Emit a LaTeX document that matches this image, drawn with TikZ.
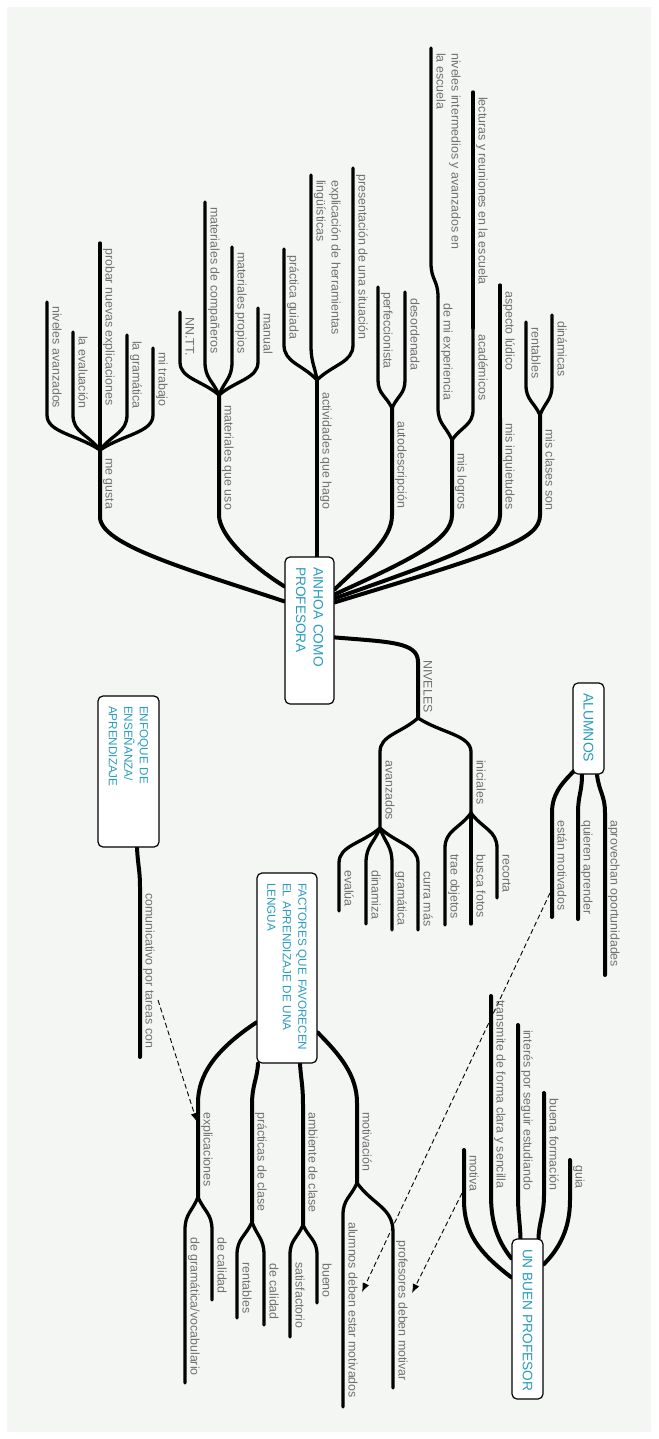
\documentclass[tikz,border=0pt]{standalone}
\usepackage{fontspec}
\setmainfont{Liberation Sans}
\usetikzlibrary{calc,backgrounds,arrows.meta}
\definecolor{bgc}{HTML}{F4F6F4}
\definecolor{lblc}{HTML}{707070}
\definecolor{boxc}{HTML}{2A9BBF}
\newcommand{\brleaf}[5]{%
  \coordinate (#2b) at (#3,-#4);
  \coordinate (#2t) at (#3,-#5);
  \draw[leaf] (#1) .. controls ($(#1)!0.45!(#2b)$) and ($(#2b)!0.5!(#2b|-#1)$) .. (#2b) -- (#2t);}
\newcommand{\lab}[4]{\node[lbl] (#1) at (#2+1,-#3+1.5) {#4};}
\begin{document}
\begin{tikzpicture}[x=1pt,y=1pt,
  leaf/.style={line width=3.3pt, line cap=round},
  trunk/.style={line width=4pt, line cap=round},
  lbl/.style={rotate=-90, anchor=south west, inner sep=1.5pt, text depth=3pt, text=lblc, font=\fontsize{12.4}{15}\selectfont, align=left},
  box/.style={rotate=-90, draw=black, line width=1.2pt, fill=white, rounded corners=5pt, text=boxc, align=left, inner xsep=10pt, inner ysep=0pt},
  link/.style={line width=0.9pt, dash pattern=on 5pt off 3pt, -{Latex[length=9pt,width=7pt]}}
]
\useasboundingbox (0,0) rectangle (658,-1439);
% ---------- boxes ----------
\node[box, font=\fontsize{13.7}{17.5}\selectfont, text width=127pt, minimum height=49pt] (ainhoa) at (309.5,-630.5) {AINHOA COMO\\PROFESORA};
\node[box, font=\fontsize{11.7}{15.5}\selectfont, text width=131pt, minimum height=61pt] (enfoque) at (128.5,-771.5) {ENFOQUE DE\\ENSEÑANZA/\\APRENDIZAJE};
\node[box, font=\fontsize{11.7}{15.5}\selectfont, text width=170pt, minimum height=60pt] (factores) at (287,-968) {FACTORES QUE FAVORECEN\\EL APRENDIZAJE DE UNA\\LENGUA};
\node[box, font=\fontsize{14}{16}\selectfont, minimum height=31pt] (alumnos) at (588.5,-728.5) {\makebox[71pt][l]{ALUMNOS}};
\node[box, font=\fontsize{13.7}{16}\selectfont, minimum height=31pt] (buen) at (527.5,-1319) {\makebox[140pt][l]{UN BUEN PROFESOR}};
% ---------- fork coordinates ----------
\coordinate (F1) at (100,-450);  \coordinate (F1s) at (100,-517);
\coordinate (F2) at (219,-395);  \coordinate (F2s) at (219,-515);
\coordinate (F3) at (317,-380);
\coordinate (F4) at (392,-408);  \coordinate (F4s) at (392,-515);
\coordinate (F5) at (452,-440);  \coordinate (F5s) at (452,-515);
\coordinate (I6) at (500,-418);  \coordinate (I6s) at (500,-515); \coordinate (I6t) at (500,-285);
\coordinate (F7) at (540,-415);  \coordinate (F7s) at (540,-515);
\coordinate (N0) at (418,-662);  \coordinate (F8) at (418,-718);
\coordinate (nivb) at (431,-263); \coordinate (nivt) at (431,-48);
\coordinate (lect) at (473,-92);
\coordinate (emb) at (552,-813); \coordinate (emt) at (552,-917);
\coordinate (qab) at (578,-813); \coordinate (qat) at (578,-919);
\coordinate (aob) at (605,-813); \coordinate (aot) at (605,-975);
\coordinate (ctb) at (140,-887); \coordinate (ctt) at (140,-1057);
\coordinate (F9a) at (198,-1197); \coordinate (F9as) at (198,-1103);
\coordinate (F9b) at (252,-1222); \coordinate (F9bs) at (252,-1105);
\coordinate (F9c) at (303,-1225); \coordinate (F9cs) at (303,-1105);
\coordinate (F9d) at (357,-1183); \coordinate (F9ds) at (357,-1103);
\coordinate (mvb) at (464,-1200); \coordinate (mvt) at (464,-1150);
\coordinate (tcb) at (491,-1195); \coordinate (tct) at (491,-996);
\coordinate (ieb) at (518,-1195); \coordinate (iet) at (518,-1025);
\coordinate (bfb) at (544,-1195); \coordinate (bft) at (544,-1093);
\coordinate (gub) at (570,-1200); \coordinate (gut) at (570,-1160);
% ---------- connectors ----------
\begin{scope}[on background layer]
\fill[bgc] (7,-7) rectangle (651,-1432);
% me gusta
\draw[trunk] ([yshift=-45pt]ainhoa.south west) .. controls (190,-570) and (100,-545) .. (F1s) -- (F1);
\brleaf{F1}{nav}{47}{415}{302}
\brleaf{F1}{eva}{73}{415}{332}
\brleaf{F1}{pro}{100}{415}{243}
\brleaf{F1}{gra}{127}{415}{335}
\brleaf{F1}{tra}{153}{415}{348}
% materiales que uso
\draw[trunk] ([yshift=-30pt]ainhoa.south west) .. controls (250,-565) and (219,-535) .. (F2s) -- (F2);
\brleaf{F2}{nnt}{180}{362}{312}
\brleaf{F2}{mco}{205}{362}{202}
\brleaf{F2}{mpr}{232}{362}{247}
\brleaf{F2}{man}{258}{362}{308}
% actividades que hago
\draw[trunk] ([xshift=7.5pt]ainhoa.west) -- (F3);
\brleaf{F3}{pgu}{284}{345}{249}
\brleaf{F3}{exh}{311}{345}{175}
\brleaf{F3}{pre}{353}{345}{168}
% autodescripcion
\draw[trunk] ([yshift=-33pt]ainhoa.north west) .. controls (365,-560) and (392,-540) .. (F4s) -- (F4);
\brleaf{F4}{per}{378}{380}{287}
\brleaf{F4}{des}{405}{380}{292}
% mis logros
\draw[trunk] ([yshift=-38pt]ainhoa.north west) .. controls (410,-560) and (452,-540) .. (F5s) -- (F5);
\brleaf{F5}{dme}{438}{408}{297}
\draw[leaf] (dmet) .. controls (438,-280) and (431,-280) .. (nivb) -- (nivt);
\brleaf{F5}{aca}{473}{410}{328}
\draw[leaf] (acat) -- (lect);
% mis inquietudes
\draw[trunk] ([yshift=-42pt]ainhoa.north west) .. controls (455,-556) and (500,-540) .. (I6s) -- (I6);
\draw[leaf] (I6) -- (I6t);
% mis clases son
\draw[trunk] ([yshift=-46pt]ainhoa.north west) .. controls (500,-552) and (540,-540) .. (F7s) -- (F7);
\brleaf{F7}{ren}{526}{385}{322}
\brleaf{F7}{din}{552}{385}{315}
% NIVELES
\draw[trunk] ([yshift=-81pt]ainhoa.north west) .. controls (390,-642) and (418,-642) .. (N0) -- (F8);
\brleaf{F8}{ava}{380}{752}{828}
\brleaf{F8}{ini}{471}{752}{813}
\brleaf{avat}{evl}{339}{863}{911}
\brleaf{avat}{dnz}{366}{863}{924}
\brleaf{avat}{gmt}{392}{863}{930}
\brleaf{avat}{cmr}{418}{863}{930}
\brleaf{init}{tro}{445}{848}{925}
\brleaf{init}{bfo}{471}{848}{924}
\brleaf{init}{rec}{497}{848}{898}
% ALUMNOS
\draw[trunk] ([xshift=2pt,yshift=4pt]alumnos.south east) .. controls (560,-785) and (552,-795) .. (emb) -- (emt);
\draw[trunk] ([xshift=-6.5pt]alumnos.east) .. controls (582,-792) and (578,-795) .. (qab) -- (qat);
\draw[trunk] ([xshift=8.5pt]alumnos.east) .. controls (599,-792) and (605,-795) .. (aob) -- (aot);
% ENFOQUE
\draw[trunk] ([xshift=8.5pt]enfoque.east) .. controls (138,-867) and (140,-870) .. (ctb) -- (ctt);
% FACTORES
\draw[trunk] ([yshift=-150pt]factores.south west) .. controls (215,-1050) and (198,-1075) .. (F9as) -- (F9a);
\brleaf{F9a}{dgv}{185}{1230}{1383}
\brleaf{F9a}{dca}{212}{1230}{1300}
\draw[trunk] ([xshift=-29pt]factores.east) .. controls (257,-1080) and (252,-1085) .. (F9bs) -- (F9b);
\brleaf{F9b}{rnt}{237}{1255}{1318}
\brleaf{F9b}{dcb}{264}{1255}{1325}
\draw[trunk] ([xshift=13pt]factores.east) .. controls (301,-1080) and (303,-1085) .. (F9cs) -- (F9c);
\brleaf{F9c}{sat}{290}{1255}{1337}
\brleaf{F9c}{bue}{317}{1255}{1303}
\draw[trunk] ([yshift=-160pt]factores.north west) .. controls (340,-1055) and (357,-1075) .. (F9ds) -- (F9d);
\brleaf{F9d}{adm}{343}{1215}{1407}
\brleaf{F9d}{pdm}{393}{1232}{1388}
% UN BUEN PROFESOR
\draw[trunk] ([yshift=-39pt]buen.south west) .. controls (478,-1252) and (464,-1232) .. (mvb) -- (mvt);
\draw[trunk] ([yshift=-20pt]buen.south west) .. controls (497,-1240) and (491,-1222) .. (tcb) -- (tct);
\draw[trunk] ([xshift=-7pt]buen.west) .. controls (520,-1222) and (518,-1215) .. (ieb) -- (iet);
\draw[trunk] ([xshift=11pt]buen.west) .. controls (539,-1222) and (544,-1215) .. (bfb) -- (bft);
\draw[trunk] ([yshift=-26pt]buen.north west) .. controls (560,-1248) and (570,-1228) .. (gub) -- (gut);
\end{scope}
% ---------- dashed links ----------
\coordinate (d1s) at (550,-893);  \coordinate (d1e) at (362,-1292);
\coordinate (d2s) at (462,-1193); \coordinate (d2e) at (412,-1293);
\coordinate (d3s) at (158,-1000); \coordinate (d3e) at (197,-1122);
\draw[link] (d1s) -- (d1e);
\draw[link] (d2s) -- (d2e);
\draw[link] (d3s) -- (d3e);
% ---------- labels ----------
\lab{l1}{100}{458}{me gusta}
\lab{l1a}{47}{306}{niveles avanzados}
\lab{l1b}{73}{336}{la evaluación}
\lab{l1c}{100}{248}{probar nuevas explicaciones}
\lab{l1d}{127}{341}{la gramática}
\lab{l1e}{153}{352}{mi trabajo}
\lab{l2}{219}{405}{materiales que uso}
\lab{l2a}{180}{317}{NN.TT.}
\lab{l2b}{205}{207}{materiales de compañeros}
\lab{l2c}{232}{252}{materiales propios}
\lab{l2d}{258}{313}{manual}
\lab{l3}{317}{392}{actividades que hago}
\lab{l3a}{284}{255}{práctica guiada}
\lab{l3b}{311}{180}{explicación de herramientas\\lingüísticas}
\lab{l3c}{353}{174}{presentación de una situación}
\lab{l4}{392}{421}{autodescripción}
\lab{l4a}{378}{292}{perfeccionista}
\lab{l4b}{405}{298}{desordenada}
\lab{l5}{452}{453}{mis logros}
\lab{l5a}{438}{303}{de mi experiencia}
\lab{l5b}{431}{53}{niveles intermedios y avanzados en\\la escuela}
\lab{l5c}{473}{334}{académicos}
\lab{l5d}{473}{97}{lecturas y reuniones en la escuela}
\lab{l6}{500}{423}{mis inquietudes}
\lab{l6a}{500}{291}{aspecto lúdico}
\lab{l7}{540}{429}{mis clases son}
\lab{l7a}{526}{327}{rentables}
\lab{l7b}{552}{321}{dinámicas}
\lab{l8}{418}{660}{NIVELES}
\lab{l8a}{380}{760}{avanzados}
\lab{l8b}{471}{760}{iniciales}
\lab{l8c}{339}{870}{evalúa}
\lab{l8d}{366}{870}{dinamiza}
\lab{l8e}{392}{871}{gramática}
\lab{l8f}{418}{871}{curra más}
\lab{l8g}{445}{854}{trae objetos}
\lab{l8h}{471}{854}{busca fotos}
\lab{l8i}{497}{854}{recorta}
\lab{la1}{552}{820}{están motivados}
\lab{la2}{578}{820}{quieren aprender}
\lab{la3}{605}{820}{aprovechan oportunidades}
\lab{le1}{140}{893}{comunicativo por tareas con}
\lab{lf1}{198}{1112}{explicaciones}
\lab{lf1a}{185}{1237}{de gramática/vocabulario}
\lab{lf1b}{212}{1237}{de calidad}
\lab{lf2}{252}{1112}{prácticas de clase}
\lab{lf2a}{237}{1262}{rentables}
\lab{lf2b}{264}{1263}{de calidad}
\lab{lf3}{303}{1112}{ambiente de clase}
\lab{lf3a}{290}{1262}{satisfactorio}
\lab{lf3b}{317}{1263}{bueno}
\lab{lf4}{357}{1112}{motivación}
\lab{lf4a}{343}{1222}{alumnos deben estar motivados}
\lab{lf4b}{393}{1240}{profesores deben motivar}
\lab{lb1}{464}{1155}{motiva}
\lab{lb2}{491}{1000}{transmite de forma clara y sencilla}
\lab{lb3}{518}{1030}{interés por seguir estudiando}
\lab{lb4}{544}{1098}{buena formación}
\lab{lb5}{570}{1165}{guia}
\end{tikzpicture}
\end{document}
